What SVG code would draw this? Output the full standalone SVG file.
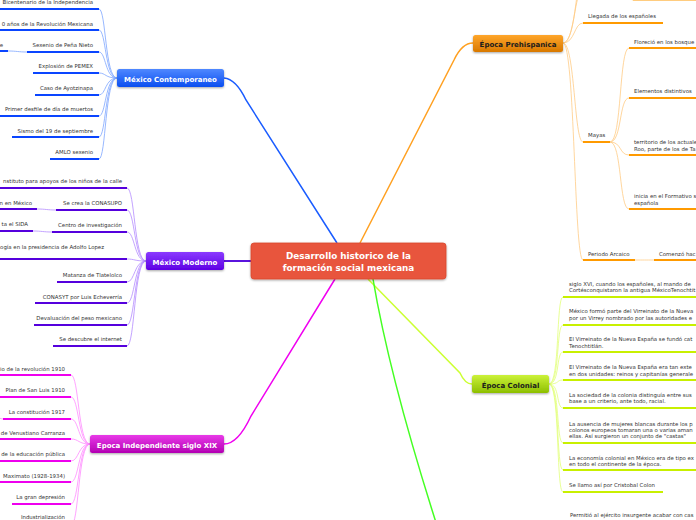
<svg xmlns="http://www.w3.org/2000/svg" width="696" height="520" viewBox="0 0 696 520">
<defs>
<linearGradient id="gBlue" x1="0" y1="0" x2="0" y2="1"><stop offset="0" stop-color="#4f88ff"/><stop offset="1" stop-color="#0b4ef0"/></linearGradient>
<linearGradient id="gPurple" x1="0" y1="0" x2="0" y2="1"><stop offset="0" stop-color="#8a3bff"/><stop offset="1" stop-color="#5e00e4"/></linearGradient>
<linearGradient id="gMag" x1="0" y1="0" x2="0" y2="1"><stop offset="0" stop-color="#e83ae8"/><stop offset="1" stop-color="#b300b3"/></linearGradient>
<linearGradient id="gOrange" x1="0" y1="0" x2="0" y2="1"><stop offset="0" stop-color="#ffa62a"/><stop offset="1" stop-color="#d87800"/></linearGradient>
<linearGradient id="gLime" x1="0" y1="0" x2="0" y2="1"><stop offset="0" stop-color="#ccf23a"/><stop offset="1" stop-color="#8dbf00"/></linearGradient>
<filter id="sh" x="-10%" y="-30%" width="120%" height="170%"><feDropShadow dx="0" dy="1" stdDeviation="1" flood-color="#000" flood-opacity="0.35"/></filter>
</defs>
<style>
.t{font-family:"DejaVu Sans","Liberation Sans",sans-serif;font-size:5.4px;fill:#333}
.te{text-anchor:end}
.nt{font-family:"DejaVu Sans","Liberation Sans",sans-serif;font-weight:bold;font-size:7px;text-anchor:middle}
.w{fill:#fff}
.d{fill:#1c1c1c}
.ct{font-family:"DejaVu Sans","Liberation Sans",sans-serif;font-weight:bold;font-size:8.8px;text-anchor:middle;fill:#fff}
.ub{stroke:#0a45ff;stroke-width:2;fill:none}
.up{stroke:#5500dd;stroke-width:2;fill:none}
.um{stroke:#ee00ee;stroke-width:2;fill:none}
.uo{stroke:#ff9a00;stroke-width:2;fill:none}
.ul{stroke:#c8f000;stroke-width:2;fill:none}
.cb{stroke:#7ea6ff;stroke-width:0.8;fill:none}
.cp{stroke:#b48cff;stroke-width:0.8;fill:none}
.cm{stroke:#ff8cff;stroke-width:0.8;fill:none}
.co{stroke:#ffcc85;stroke-width:0.8;fill:none}
.cl{stroke:#e2ff7a;stroke-width:0.8;fill:none}
</style>
<rect width="696" height="520" fill="#fff"/>

<g id="connectors">
<path d="M337,243 L246,100 Q236,79 224,78" stroke="#1a5cff" stroke-width="1.5" fill="none"/>
<path d="M360,243 L454,60 Q462,43 473,43" stroke="#ffa020" stroke-width="1.5" fill="none"/>
<path d="M251,261 L224,261" stroke="#5a14dd" stroke-width="2" fill="none"/>
<path d="M335,279 L251,416 Q238,444 224,444" stroke="#f000f0" stroke-width="1.5" fill="none"/>
<path d="M368,279 L460,373 Q465,384 472,384" stroke="#ccff33" stroke-width="1.5" fill="none"/>
<path d="M373,279 Q390,380 440,535" stroke="#44ff22" stroke-width="1.5" fill="none"/>
<path class="cb" d="M117,78 C105,78 106,9 99,9"/>
<path class="cb" d="M117,78 C105,78 106,30 99,30"/>
<path class="cb" d="M117,78 C105,78 106,52 99,52"/>
<path class="cb" d="M117,78 C105,78 106,73 99,73"/>
<path class="cb" d="M117,78 C105,78 106,95 99,95"/>
<path class="cb" d="M117,78 C105,78 106,116 99,116"/>
<path class="cb" d="M117,78 C105,78 106,137 99,137"/>
<path class="cb" d="M117,78 C105,78 106,159 99,159"/>
<path class="cb" d="M27,52 C18,52 17,51 8,51"/>
<path class="cp" d="M146,261 C134,261 135,188 127,188"/>
<path class="cp" d="M146,261 C134,261 135,210 127,210"/>
<path class="cp" d="M146,261 C134,261 135,232 127,232"/>
<path class="cp" d="M146,261 C134,261 135,259 127,259"/>
<path class="cp" d="M146,261 C134,261 135,282 127,282"/>
<path class="cp" d="M146,261 C134,261 135,303 127,303"/>
<path class="cp" d="M146,261 C134,261 135,325 127,325"/>
<path class="cp" d="M146,261 C134,261 135,346 127,346"/>
<path class="cp" d="M56,210 C47,210 46,209 37,209"/>
<path class="cp" d="M52,232 C43,232 42,231 33,231"/>
<path class="cm" d="M90,444 C78,444 79,375 71,375"/>
<path class="cm" d="M90,444 C78,444 79,397 71,397"/>
<path class="cm" d="M90,444 C78,444 79,419 71,419"/>
<path class="cm" d="M90,444 C78,444 79,439 71,439"/>
<path class="cm" d="M90,444 C78,444 79,461 71,461"/>
<path class="cm" d="M90,444 C78,444 79,482 71,482"/>
<path class="cm" d="M90,444 C78,444 79,504 71,504"/>
<path class="cm" d="M90,444 C78,444 79,526 71,526"/>
<path class="cm" d="M3,419 C0,419 -1,417 -5,417"/>
<path class="co" d="M563,43 C575,43 574,-10 583,-10"/>
<path class="co" d="M563,43 C577,43 576,-35 585,-35"/>
<path class="co" d="M563,43 C575,43 574,23 583,23"/>
<path class="co" d="M563,43 C575,43 574,142 583,142"/>
<path class="co" d="M563,43 C575,43 574,260 583,260"/>
<path class="co" d="M610,142 C622,142 619,48 629,48"/>
<path class="co" d="M610,142 C622,142 619,98 629,98"/>
<path class="co" d="M610,142 C622,142 619,155 629,155"/>
<path class="co" d="M610,142 C622,142 619,209 629,209"/>
<path class="co" d="M635,260 C644,260 645,260 654,260"/>
<path class="co" d="M620,-20 C626,-20 624,0 633,0"/>
<path class="cl" d="M549,384 C560,384 556,297 563,297"/>
<path class="cl" d="M549,384 C560,384 556,325 563,325"/>
<path class="cl" d="M549,384 C560,384 556,352 563,352"/>
<path class="cl" d="M549,384 C560,384 556,380 563,380"/>
<path class="cl" d="M549,384 C560,384 556,408 563,408"/>
<path class="cl" d="M549,384 C560,384 556,443 563,443"/>
<path class="cl" d="M549,384 C560,384 556,470 563,470"/>
<path class="cl" d="M549,384 C560,384 556,492 563,492"/>
</g>

<g id="center">
<rect x="251" y="243" width="195" height="36" rx="3" fill="#e8553d" stroke="#d9492f" stroke-width="0.8" filter="url(#sh)"/>
<text class="ct" x="348.5" y="259">Desarrollo historico de la</text>
<text class="ct" x="348.5" y="271">formación social mexicana</text>
</g>

<g id="mexico-contemporaneo">
<rect x="117" y="69" width="107" height="18" rx="2.5" fill="url(#gBlue)" filter="url(#sh)"/>
<text class="nt w" x="170.5" y="81.5">México Contemporaneo</text>
</g>
<g id="mc-1"><path class="ub" d="M-5,9 H99"/><text class="t te" x="93" y="4">Bicentenario de la Independencia</text></g>
<g id="mc-2"><path class="ub" d="M-5,30 H99"/><text class="t te" x="93" y="25.5">0 años de la Revolución Mexicana</text></g>
<g id="mc-3"><path class="ub" d="M27,52 H99"/><text class="t te" x="93" y="47">Sexenio de Peña Nieto</text></g>
<g id="mc-3a"><path class="ub" d="M-5,51 H8"/><text class="t te" x="3" y="47">e</text></g>
<g id="mc-4"><path class="ub" d="M33,73 H99"/><text class="t te" x="93" y="68">Explosión de PEMEX</text></g>
<g id="mc-5"><path class="ub" d="M35,95 H99"/><text class="t te" x="93" y="90">Caso de Ayotzinapa</text></g>
<g id="mc-6"><path class="ub" d="M-5,116 H99"/><text class="t te" x="93" y="111">Primer desfile de día de muertos</text></g>
<g id="mc-7"><path class="ub" d="M12,137 H99"/><text class="t te" x="93" y="132.5">Sismo del 19 de septiembre</text></g>
<g id="mc-8"><path class="ub" d="M50,159 H99"/><text class="t te" x="93" y="154">AMLO sexenio</text></g>

<g id="mexico-moderno">
<rect x="146" y="252" width="78" height="18" rx="2.5" fill="url(#gPurple)" filter="url(#sh)"/>
<text class="nt w" x="185" y="264.5">México Moderno</text>
</g>
<g id="mm-1"><path class="up" d="M-5,188 H127"/><text class="t te" x="122" y="183">nstituto para apoyos de los niños de la calle</text></g>
<g id="mm-2"><path class="up" d="M56,210 H127"/><text class="t te" x="122" y="205">Se crea la CONASUPO</text></g>
<g id="mm-2a"><path class="up" d="M-5,209 H37"/><text class="t te" x="32" y="205">n en México</text></g>
<g id="mm-3"><path class="up" d="M52,232 H127"/><text class="t te" x="122" y="227">Centro de investigación</text></g>
<g id="mm-3a"><path class="up" d="M-5,231 H33"/><text class="t te" x="28" y="226">ta el SIDA</text></g>
<g id="mm-4"><path class="up" d="M-5,259 H127"/><text class="t te" x="104" y="249">ogía en la presidencia de Adolfo Lopez</text></g>
<g id="mm-5"><path class="up" d="M57,282 H127"/><text class="t te" x="122" y="277">Matanza de Tlatelolco</text></g>
<g id="mm-6"><path class="up" d="M35,303 H127"/><text class="t te" x="122" y="298.5">CONASYT por Luis Echeverría</text></g>
<g id="mm-7"><path class="up" d="M34,325 H127"/><text class="t te" x="122" y="320">Devaluación del peso mexicano</text></g>
<g id="mm-8"><path class="up" d="M53,346 H127"/><text class="t te" x="122" y="341">Se descubre el internet</text></g>

<g id="epoca-independiente">
<rect x="90" y="435" width="134" height="18" rx="2.5" fill="url(#gMag)" filter="url(#sh)"/>
<text class="nt w" x="157" y="447.5">Epoca Independiente siglo XIX</text>
</g>
<g id="ei-1"><path class="um" d="M-5,375 H71"/><text class="t te" x="65" y="370.5">io de la revolución 1910</text></g>
<g id="ei-2"><path class="um" d="M0,397 H71"/><text class="t te" x="65" y="392">Plan de San Luis 1910</text></g>
<g id="ei-3"><path class="um" d="M3,419 H71"/><text class="t te" x="65" y="414">La constitución 1917</text></g>
<g id="ei-4"><path class="um" d="M-5,439 H71"/><text class="t te" x="65" y="435">de Venustiano Carranza</text></g>
<g id="ei-5"><path class="um" d="M-5,461 H71"/><text class="t te" x="65" y="456">de la educación pública</text></g>
<g id="ei-6"><path class="um" d="M-5,482 H71"/><text class="t te" x="65" y="478">Maximato (1928-1934)</text></g>
<g id="ei-7"><path class="um" d="M12,504 H71"/><text class="t te" x="65" y="499">La gran depresión</text></g>
<g id="ei-8"><text class="t te" x="65" y="518.5">Industrialización</text></g>

<g id="epoca-prehispanica">
<rect x="473" y="35" width="90" height="17" rx="2.5" fill="url(#gOrange)" filter="url(#sh)"/>
<text class="nt d" x="518" y="46.5">Época Prehispanica</text>
</g>
<g id="ep-top"><path class="uo" d="M633,-0.5 H700"/></g>
<g id="ep-1"><path class="uo" d="M583,23 H663"/><text class="t" x="588" y="18">Llegada de los españoles</text></g>
<g id="ep-2"><path class="uo" d="M583,142 H610"/><text class="t" x="588" y="137">Mayas</text></g>
<g id="ep-2a"><path class="uo" d="M629,48 H700"/><text class="t" x="634" y="44">Floreció en los bosque</text></g>
<g id="ep-2b"><path class="uo" d="M629,98 H700"/><text class="t" x="634" y="93">Elementos distintivos</text></g>
<g id="ep-2c"><path class="uo" d="M629,155 H700"/><text class="t" x="634" y="144">territorio de los actuale</text><text class="t" x="634" y="150.5">Roo, parte de los de Ta</text></g>
<g id="ep-2d"><path class="uo" d="M629,209 H700"/><text class="t" x="634" y="198">inicia en el Formativo s</text><text class="t" x="634" y="205">española</text></g>
<g id="ep-3"><path class="uo" d="M583,260 H635"/><text class="t" x="588" y="256">Periodo Arcaico</text></g>
<g id="ep-3a"><path class="uo" d="M654,260 H700"/><text class="t" x="659" y="256">Comenzó hac</text></g>

<g id="epoca-colonial">
<rect x="472" y="375" width="77" height="18" rx="2.5" fill="url(#gLime)" filter="url(#sh)"/>
<text class="nt d" x="510.5" y="387.5">Época Colonial</text>
</g>
<g id="ec-1"><path class="ul" d="M563,297 H700"/><text class="t" x="569" y="285.5">siglo XVI, cuando los españoles, al mando de</text><text class="t" x="569" y="292">Cortésconquistaron la antigua MéxicoTenochtit</text></g>
<g id="ec-2"><path class="ul" d="M563,325 H700"/><text class="t" x="569" y="313">México formó parte del Virreinato de la Nueva</text><text class="t" x="569" y="319.5">por un Virrey nombrado por las autoridades e</text></g>
<g id="ec-3"><path class="ul" d="M563,352 H700"/><text class="t" x="569" y="341">El Virreinato de la Nueva España se fundó cat</text><text class="t" x="569" y="347.5">Tenochtitlán.</text></g>
<g id="ec-4"><path class="ul" d="M563,380 H700"/><text class="t" x="569" y="369">El Virreinato de la Nueva España era tan exte</text><text class="t" x="569" y="375.5">en dos unidades: reinos y capitanías generale</text></g>
<g id="ec-5"><path class="ul" d="M563,408 H700"/><text class="t" x="569" y="397">La sociedad de la colonia distinguía entre sus</text><text class="t" x="569" y="403">base a un criterio, ante todo, racial.</text></g>
<g id="ec-6"><path class="ul" d="M563,443 H700"/><text class="t" x="569" y="425.5">La ausencia de mujeres blancas durante los p</text><text class="t" x="569" y="431.5">colonos europeos tomaran una o varias aman</text><text class="t" x="569" y="437.5">ellas. Así surgieron un conjunto de "castas"</text></g>
<g id="ec-7"><path class="ul" d="M563,470 H700"/><text class="t" x="569" y="459.5">La economía colonial en México era de tipo ex</text><text class="t" x="569" y="466">en todo el continente de la época.</text></g>
<g id="ec-8"><path class="ul" d="M563,492 H663"/><text class="t" x="569" y="486.5">Se llamo así por Cristobal Colon</text></g>
<g id="eg-1"><text class="t" x="570" y="517">Permitió al ejército insurgente acabar con cas</text></g>
</svg>
